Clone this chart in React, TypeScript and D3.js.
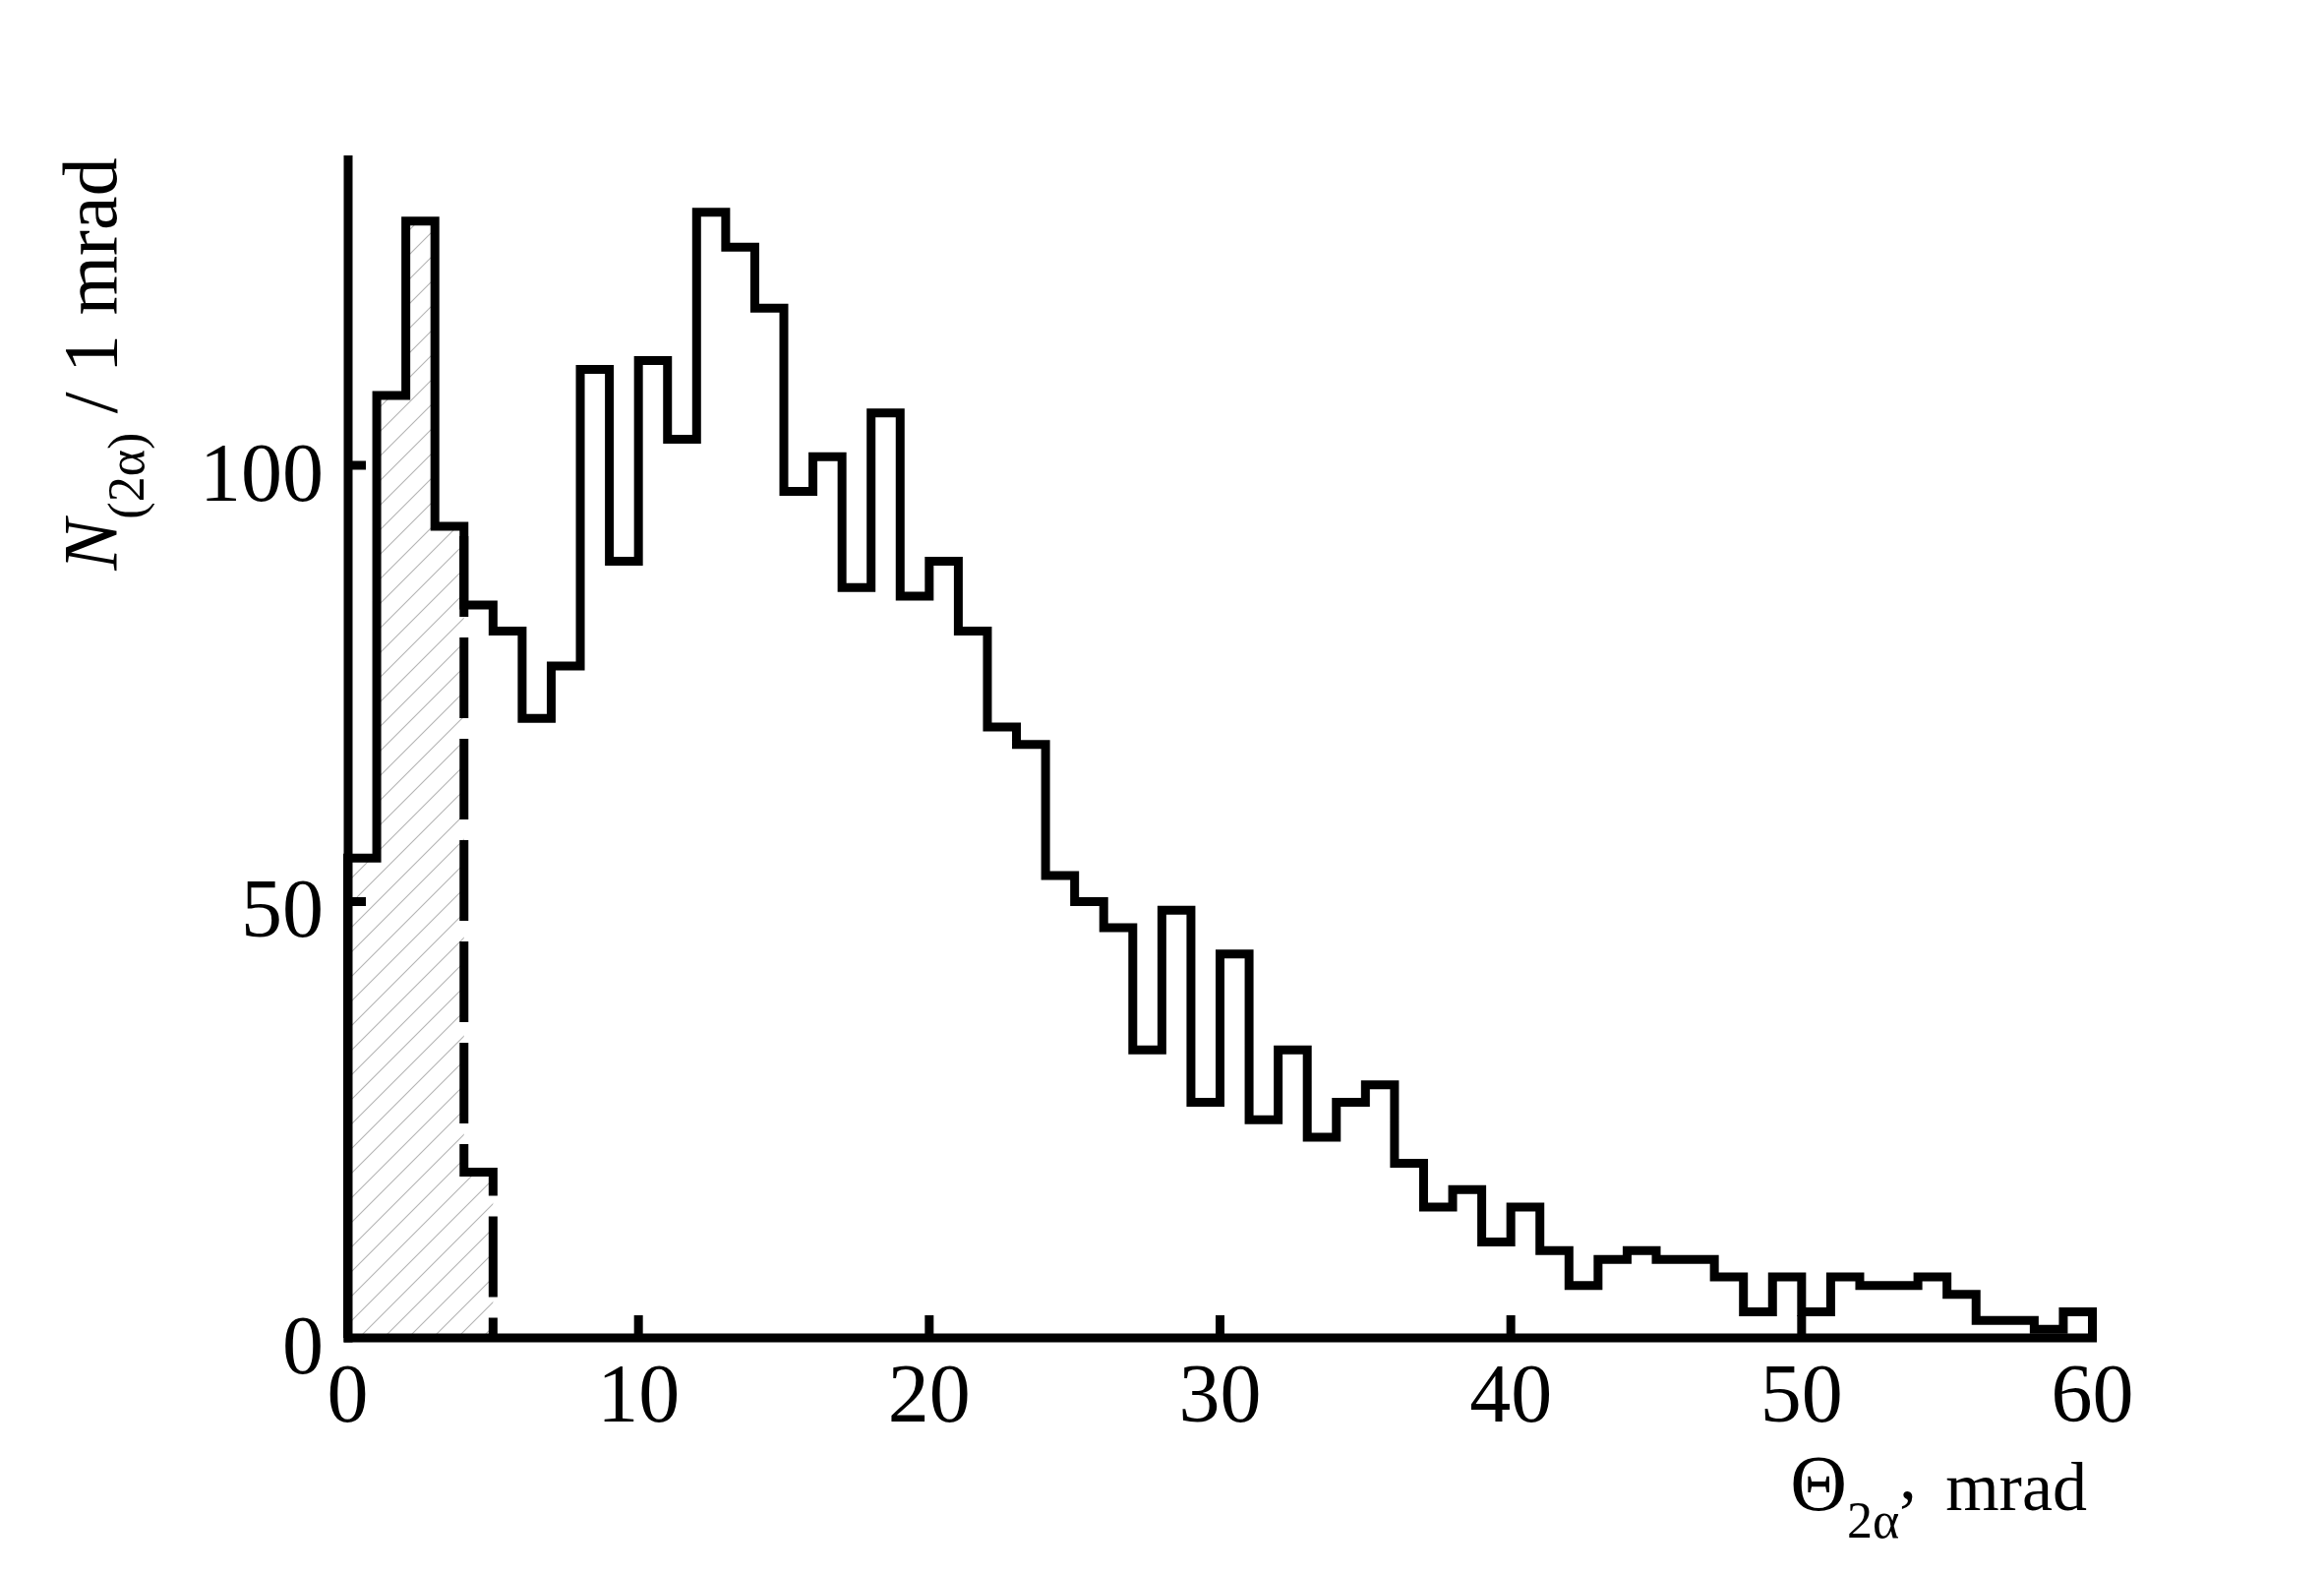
import React from "react";
import * as d3 from "d3";

const counts: number[] = [
  55, 108, 128, 93, 84, 81, 71, 77, 111, 89,
  112, 103, 129, 125, 118, 97, 101, 86, 106, 85,
  89, 81, 70, 68, 53, 50, 47, 33, 49, 27,
  44, 25, 33, 23, 27, 29, 20, 15, 17, 11,
  15, 10, 6, 9, 10, 9, 9, 7, 3, 7,
  3, 7, 6, 6, 7, 5, 2, 2, 1, 3,
];
const hatchedCounts: number[] = [55, 108, 128, 93, 19];
const xTicks: number[] = [0, 10, 20, 30, 40, 50, 60];
const yTicks: number[] = [0, 50, 100];

const W = 2363;
const H = 1600;
const FONT = "'Liberation Serif', 'Times New Roman', serif";

export default function App() {
  const x = d3.scaleLinear().domain([0, 60]).range([353.5, 2127.5]);
  const y = d3.scaleLinear().domain([0, 100]).range([1360, 473]);
  const yTop = y(135.5);

  const pts: [number, number][] = [[0, 0]];
  counts.forEach((c, i) => pts.push([i, c]));
  pts.push([counts.length, counts[counts.length - 1]]);
  pts.push([counts.length, 0]);
  const line = d3
    .line<[number, number]>()
    .x((d) => x(d[0]))
    .y((d) => y(d[1]))
    .curve(d3.curveStepAfter);

  const hpts: [number, number][] = hatchedCounts.map((c, i) => [i, c]);
  hpts.push([hatchedCounts.length, hatchedCounts[hatchedCounts.length - 1]]);
  const area = d3
    .area<[number, number]>()
    .x((d) => x(d[0]))
    .y0(y(0))
    .y1((d) => y(d[1]))
    .curve(d3.curveStepAfter);

  const n = hatchedCounts.length;
  const dashPath = `M${x(n - 1)},${y(counts[n - 2])}V${y(hatchedCounts[n - 1])}H${x(n)}V${y(0)}`;

  return (
    <svg
      width={W}
      height={H}
      style={{ position: "absolute", left: 0, top: 0, background: "#fff" }}
    >
      <defs>
        <pattern id="hatch" patternUnits="userSpaceOnUse" width={25} height={25}>
          <path
            d="M-5,5 L5,-5 M0,25 L25,0 M20,30 L30,20"
            stroke="#b4b4b4"
            strokeWidth={1.1}
          />
        </pattern>
      </defs>
      <rect width={W} height={H} fill="#fff" />
      <path d={area(hpts) || ""} fill="url(#hatch)" stroke="none" />

      {/* axes */}
      <line x1={354} x2={354} y1={yTop} y2={1364.5} stroke="#000" strokeWidth={9} />
      <line x1={349.5} x2={x(60) + 4.5} y1={y(0)} y2={y(0)} stroke="#000" strokeWidth={9} />
      {xTicks.filter((t) => t > 0 && t < 60).map((t) => (
        <line key={"xt" + t} x1={x(t)} x2={x(t)} y1={y(0)} y2={y(0) - 23} stroke="#000" strokeWidth={9} />
      ))}
      {yTicks.filter((t) => t > 0).map((t) => (
        <line key={"yt" + t} x1={354} x2={372} y1={y(t)} y2={y(t)} stroke="#000" strokeWidth={9} />
      ))}

      <path
        d={line(pts) || ""}
        fill="none"
        stroke="#000"
        strokeWidth={9}
        strokeLinejoin="miter"
      />
      <path
        d={dashPath}
        fill="none"
        stroke="#000"
        strokeWidth={9}
        strokeDasharray="82 21"
        strokeDashoffset={-10}
        strokeLinejoin="miter"
      />

      {xTicks.map((t) => (
        <text
          key={"xl" + t}
          x={x(t)}
          y={1445}
          textAnchor="middle"
          fontFamily={FONT}
          fontSize={84}
          fill="#000"
        >
          {t}
        </text>
      ))}
      {yTicks.map((t) => (
        <text
          key={"yl" + t}
          x={329}
          y={y(t) + 7}
          textAnchor="end"
          dominantBaseline="central"
          fontFamily={FONT}
          fontSize={84}
          fill="#000"
        >
          {t}
        </text>
      ))}

      <text
        transform={`translate(118,370) rotate(-90)`}
        textAnchor="middle"
        fontFamily={FONT}
        fontSize={78}
        fill="#000"
      >
        <tspan fontStyle="italic">N</tspan>
        <tspan fontSize={52} dy={28}>(2α)</tspan>
        <tspan dy={-28}>{" / 1 mrad"}</tspan>
      </text>

      <text
        x={2122}
        y={1535}
        textAnchor="end"
        fontFamily={FONT}
        fontSize={70}
        fill="#000"
      >
        <tspan fontSize={80}>Θ</tspan>
        <tspan fontSize={52} dy={28}>2α</tspan>
        <tspan dy={-40}>,</tspan>
        <tspan dy={12} dx={12}>{" mrad"}</tspan>
      </text>
    </svg>
  );
}
